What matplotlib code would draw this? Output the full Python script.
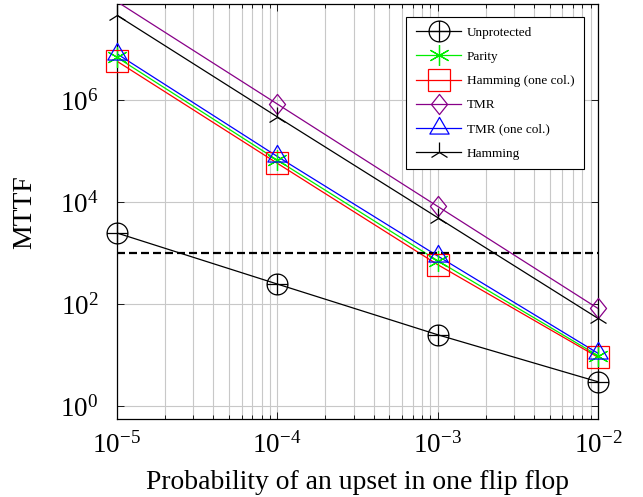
import numpy as np
import matplotlib
matplotlib.use("Agg")
import matplotlib.pyplot as plt
from matplotlib.path import Path

plt.rcParams["font.family"] = ["Liberation Serif", "DejaVu Serif"]
plt.rcParams["mathtext.fontset"] = "cm"

# data
p_upset = [1e-5, 1e-4, 1e-3, 1e-2]
unprotected = [2500, 250, 25.4, 3.04]
parity = [6.9e6, 6.7e4, 716, 9.9]
hamming_one_col = [5.8e6, 5.8e4, 600, 9.2]
tmr = [8.5e7, 8.4e5, 8.3e3, 83]
tmr_one_col = [8.1e6, 7.9e4, 887, 11]
hamming = [4.6e7, 4.7e5, 5.0e3, 53]
target = 1000

ymin, ymax = 0.56, 7.6e7

# markers a la pgfplots
oplus = Path.make_compound_path(
    Path.unit_circle(),
    Path([[-1, 0], [1, 0]], [Path.MOVETO, Path.LINETO]),
    Path([[0, -1], [0, 1]], [Path.MOVETO, Path.LINETO]),
)
diamond = Path([[0, 1], [0.8, 0], [0, -1], [-0.8, 0], [0, 1]], closed=True)
triangle = Path([[0, 1], [-0.866, -0.5], [0.866, -0.5], [0, 1]], closed=True)

series = [
    ("Unprotected", unprotected, "black", oplus, 15),
    ("Parity", parity, "#00ee00", (6, 2, 0), 15),
    ("Hamming (one col.)", hamming_one_col, "red", "s", 16),
    ("TMR", tmr, "#880088", diamond, 14.5),
    ("TMR (one col.)", tmr_one_col, "blue", triangle, 16),
    ("Hamming", hamming, "black", "2", 15),
]

fig = plt.figure(figsize=(6.43, 4.97), dpi=100)
ax = fig.add_axes([0.1815, 0.1563, 0.7485, 0.8357])

handles = []
for name, vals, col, mk, ms in series:
    ax.plot(p_upset, vals, color=col, lw=0.9, zorder=3)
    # markers drawn unclipped (as pgfplots does), skipping points off the axis
    vis = [(x, v) for x, v in zip(p_upset, vals) if ymin <= v <= ymax]
    xs, vs = zip(*vis)
    ax.plot(xs, vs, ls="none", marker=mk, ms=ms, mfc="none", mec=col,
            mew=0.9, clip_on=False, zorder=4)
    h, = ax.plot([], [], color=col, lw=0.9, marker=mk, ms=ms, mfc="none",
                 mec=col, mew=0.9)
    handles.append((h, name))

ax.axhline(target, color="black", lw=1.6, dashes=(3.6, 1.8), zorder=3)

ax.set_xscale("log")
ax.set_yscale("log")
ax.set_xlim(1e-5, 1e-2)
ax.set_ylim(ymin, ymax)
ax.set_xticks([1e-5, 1e-4, 1e-3, 1e-2])
ax.set_yticks([1e0, 1e2, 1e4, 1e6])
ax.yaxis.set_minor_locator(matplotlib.ticker.NullLocator())
ax.xaxis.set_minor_locator(matplotlib.ticker.LogLocator(subs=np.arange(2, 10)))
ax.xaxis.set_minor_formatter(matplotlib.ticker.NullFormatter())

ax.grid(True, which="major", color="#c8c8c8", lw=0.8)
ax.grid(True, which="minor", axis="x", color="#c8c8c8", lw=0.8)
ax.tick_params(which="both", direction="in", top=True, right=True,
               labelsize=19.5)
ax.tick_params(axis="x", which="major", pad=9)
ax.tick_params(axis="y", which="major", pad=13)
ax.tick_params(which="major", length=5, width=0.6)
ax.tick_params(which="minor", length=3, width=0.6)
for s in ax.spines.values():
    s.set_linewidth(0.9)

ax.set_xlabel("Probability of an upset in one flip flop", fontsize=19.9)
ax.xaxis.set_label_coords(0.5, -0.122)
ax.set_ylabel("MTTF", fontsize=19.9)
ax.yaxis.set_label_coords(-0.166, 0.5)

leg = ax.legend([h for h, _ in handles], [n for _, n in handles],
                loc="upper right", fontsize=9.5, frameon=True, fancybox=False,
                edgecolor="black", framealpha=1, handlelength=3.4,
                labelspacing=0.9, borderpad=0.75, handletextpad=0.4,
                bbox_to_anchor=(0.971, 0.969), borderaxespad=0)
leg.get_frame().set_linewidth(0.8)
leg.set_zorder(5)

fig.savefig("out.png", dpi=100)
